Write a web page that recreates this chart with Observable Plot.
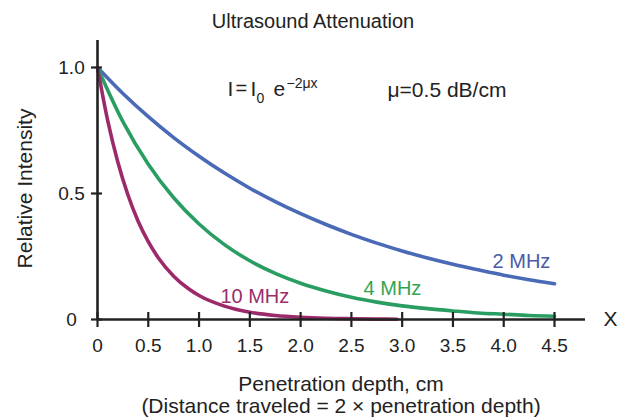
<!DOCTYPE html>
<html>
<head>
<meta charset="utf-8">
<script src="https://cdn.jsdelivr.net/npm/d3@7"></script>
<script src="https://cdn.jsdelivr.net/npm/@observablehq/plot@0.6"></script>
<style>
  html, body { margin: 0; padding: 0; background: #fff; }
  svg { display: block; }
</style>
</head>
<body>
<div id="chart"></div>
<script>
// Data
const depth = [0, 0.25, 0.5, 0.75, 1.0, 1.25, 1.5, 1.75, 2.0, 2.25, 2.5, 2.75, 3.0, 3.25, 3.5, 3.75, 4.0, 4.25, 4.5];
const mhz2 = [1.0, 0.897, 0.805, 0.722, 0.648, 0.581, 0.521, 0.468, 0.42, 0.377, 0.338, 0.303, 0.272, 0.244, 0.219, 0.197, 0.176, 0.158, 0.142];
const mhz4 = [1.0, 0.785, 0.616, 0.483, 0.379, 0.297, 0.233, 0.183, 0.144, 0.113, 0.088, 0.069, 0.054, 0.043, 0.034, 0.026, 0.021, 0.016, 0.013];
const depth10 = [0, 0.1, 0.2, 0.3, 0.4, 0.5, 0.6, 0.75, 0.9, 1.0, 1.25, 1.5, 1.75, 2.0, 2.25, 2.5, 2.75, 2.95];
const mhz10 = [1.0, 0.79, 0.625, 0.494, 0.39, 0.309, 0.244, 0.172, 0.121, 0.095, 0.053, 0.029, 0.016, 0.009, 0.005, 0.003, 0.0016, 0.001];

const xTicks = [0, 0.5, 1.0, 1.5, 2.0, 2.5, 3.0, 3.5, 4.0, 4.5];
const yTicks = [0, 0.5, 1.0];
const yTickLabels = ["0", "0.5", "1.0"];

const seriesNames = ["2 MHz", "4 MHz", "10 MHz"];
const seriesColors = ["#4a69b6", "#2a9e62", "#9c2a6b"];
const labelColors = ["#4b5aa8", "#33a552", "#9a2d6c"];
// label anchor positions (data units)
const labelX = [3.89, 2.62, 1.21];
const labelY = [0.206, 0.099, 0.065];

const axisEnd = {x: 4.805, y: 1.107};

const toRows = (xs, ys, name) => xs.map((x, i) => ({x, y: ys[i], name}));
const rows = [
  ...toRows(depth, mhz2, seriesNames[0]),
  ...toRows(depth, mhz4, seriesNames[1]),
  ...toRows(depth10, mhz10, seriesNames[2])
];
const labels = seriesNames.map((name, i) => ({name, x: labelX[i], y: labelY[i], color: labelColors[i]}));

const font = "'Liberation Sans', Arial, Helvetica, sans-serif";

const chart = Plot.plot({
  width: 618,
  height: 419,
  marginLeft: 97,
  marginRight: 64,
  marginTop: 67,
  marginBottom: 100,
  style: {fontFamily: font, fontSize: "19px", color: "#222", background: "#fff"},
  x: {domain: [0, 4.5]},
  y: {domain: [0, 1]},
  color: {domain: seriesNames, range: seriesColors},
  marks: [
    // curves
    Plot.line(rows, {x: "x", y: "y", z: "name", stroke: "name", strokeWidth: 3.6, curve: "monotone-x"}),
    // axis lines
    Plot.ruleY([0], {x1: 0, x2: axisEnd.x, stroke: "#222", strokeWidth: 2.6, clip: false}),
    Plot.ruleX([0], {y1: 0, y2: axisEnd.y, stroke: "#222", strokeWidth: 2.6, clip: false}),
    // ticks + labels
    Plot.axisX(xTicks, {tickSize: 15, dy: -7, tickPadding: 11, tickFormat: d => d === 0 ? "0" : d.toFixed(1), label: null, fontSize: 19, stroke: "#222", strokeWidth: 2.2}),
    Plot.axisY(yTicks, {tickSize: 11, dx: 5, tickPadding: 20, textAnchor: "middle", tickFormat: d => yTickLabels[yTicks.indexOf(d)], label: null, fontSize: 19, stroke: "#222", strokeWidth: 2.2}),
    // series labels
    Plot.text(labels, {x: "x", y: "y", text: "name", fill: "color", textAnchor: "start", lineAnchor: "bottom", fontSize: 20}),
    // X at end of axis
    Plot.text(["X"], {x: axisEnd.x, y: 0, dx: 18, textAnchor: "start", lineAnchor: "middle", fontSize: 21, fill: "#222"}),
    // title
    Plot.text(["Ultrasound Attenuation"], {frameAnchor: "top", dx: -13, dy: -40, lineAnchor: "bottom", fontSize: 20, fill: "#222"}),
    // equation pieces
    Plot.text(["I"], {frameAnchor: "top-left", dx: 130, dy: 28, textAnchor: "start", lineAnchor: "bottom", fontSize: 21, fill: "#222"}),
    Plot.text(["="], {frameAnchor: "top-left", dx: 138, dy: 27, textAnchor: "start", lineAnchor: "bottom", fontSize: 20, fill: "#222"}),
    Plot.text(["I"], {frameAnchor: "top-left", dx: 153, dy: 28, textAnchor: "start", lineAnchor: "bottom", fontSize: 21, fill: "#222"}),
    Plot.text(["0"], {frameAnchor: "top-left", dx: 159, dy: 35, textAnchor: "start", lineAnchor: "bottom", fontSize: 14, fill: "#222"}),
    Plot.text(["e"], {frameAnchor: "top-left", dx: 176, dy: 28, textAnchor: "start", lineAnchor: "bottom", fontSize: 21, fill: "#222"}),
    Plot.text(["\u22122\u03bcx"], {frameAnchor: "top-left", dx: 189, dy: 20, textAnchor: "start", lineAnchor: "bottom", fontSize: 14, fill: "#222"}),
    Plot.text(["\u03bc=0.5 dB/cm"], {frameAnchor: "top-left", dx: 290, dy: 29, textAnchor: "start", lineAnchor: "bottom", fontSize: 21, fill: "#222"}),
    // axis titles
    Plot.text(["Relative Intensity"], {frameAnchor: "left", dx: -72, dy: -5, rotate: -90, textAnchor: "middle", lineAnchor: "middle", fontSize: 21, fill: "#222"}),
    Plot.text(["Penetration depth, cm"], {frameAnchor: "bottom", dx: 15, dy: 71, lineAnchor: "bottom", fontSize: 21, fill: "#222"}),
    Plot.text(["(Distance traveled = 2 \u00d7 penetration depth)"], {frameAnchor: "bottom", dx: 15, dy: 93, lineAnchor: "bottom", fontSize: 21, fill: "#222"})
  ]
});

document.getElementById("chart").appendChild(chart);
</script>
</body>
</html>
